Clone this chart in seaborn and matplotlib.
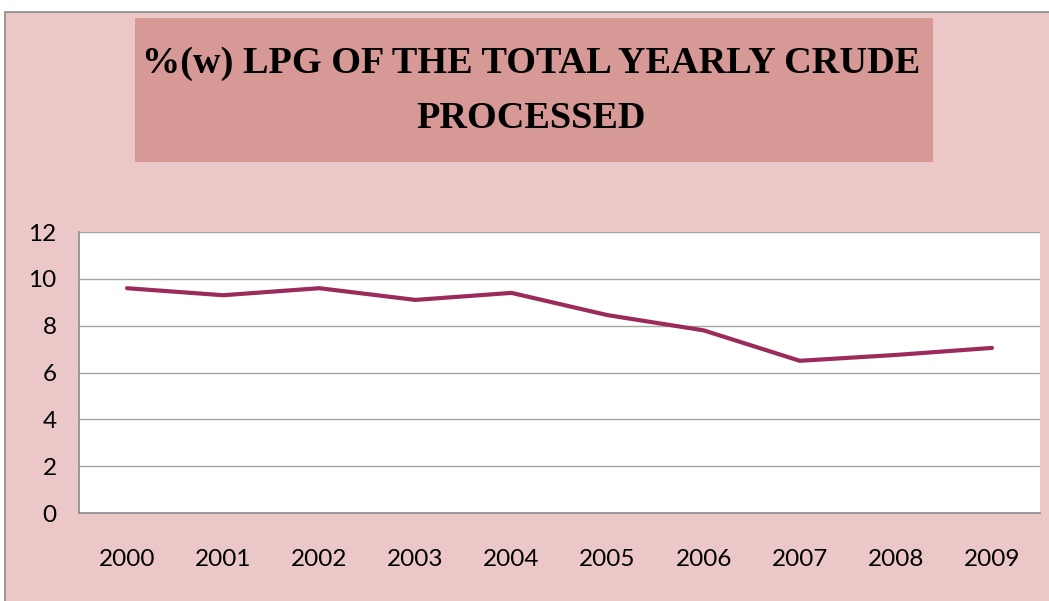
import matplotlib
matplotlib.use('Agg')

import matplotlib.pyplot as plt
import numpy as np
import pandas as pd
import seaborn as sns
from matplotlib.patches import Rectangle
from matplotlib.ticker import FixedLocator

# values
years = ['2000', '2001', '2002', '2003', '2004', '2005', '2006', '2007', '2008', '2009']
lpg_pct = [9.6, 9.3, 9.6, 9.1, 9.4, 8.45, 7.8, 6.5, 6.75, 7.05]
y_ticks = [0, 2, 4, 6, 8, 10, 12]

title = '%(w) LPG OF THE TOTAL YEARLY CRUDE\nPROCESSED'

df = pd.DataFrame({'year': years, 'lpg': lpg_pct})

sns.set_style('white')
plt.rcParams['font.family'] = ['Lato', 'DejaVu Sans']

W, H = 1049, 601
fig = plt.figure(figsize=(W / 100, H / 100), dpi=100, facecolor='white')

# pink chart background with grey frame
fig.patches.append(Rectangle((5 / W, -0.01), 1.0, (H - 12) / H + 0.01,
	transform=fig.transFigure, facecolor='#ebc7c8', edgecolor='#8a8a8a',
	linewidth=1.2, zorder=-2))

# title box
fig.patches.append(Rectangle((135 / W, 1 - 162 / H), (933 - 135) / W, (162 - 18) / H,
	transform=fig.transFigure, facecolor='#d79995', edgecolor='none', zorder=-1))
fig.text(531 / W, 1 - 91 / H, title, ha='center', va='center', fontsize=27.5,
	fontweight='bold', family='Liberation Serif', color='black',
	linespacing=1.75, zorder=2)

ax = fig.add_axes([79 / W, 1 - 513 / H, (1040 - 79) / W, (513 - 232) / H])
ax.set_facecolor('white')

sns.lineplot(data=df, x='year', y='lpg', ax=ax, color='#9b2b5b', linewidth=3.0,
	solid_capstyle='round', zorder=3)

ax.set_xlim(-0.5, len(years) - 0.5)
ax.set_ylim(0, 12)
ax.set_yticks(y_ticks)
ax.yaxis.grid(True, color='#a6a6a6', linewidth=1.0)
ax.set_axisbelow(True)

# category ticks between the labels, like a spreadsheet chart
ax.xaxis.set_minor_locator(FixedLocator(np.arange(-0.5, len(years), 1.0)))
ax.tick_params(axis='x', which='major', length=0, pad=26, labelsize=17.5, labelcolor='black')
ax.tick_params(axis='x', which='minor', length=8, width=1, color='#8a8a8a', direction='out')
ax.tick_params(axis='y', which='major', length=7, width=1, color='#8a8a8a',
	direction='out', labelsize=17.5, pad=9, labelcolor='black')

for side in ['top', 'right']:
	ax.spines[side].set_visible(False)
for side in ['left', 'bottom']:
	ax.spines[side].set_color('#8a8a8a')
	ax.spines[side].set_linewidth(1.2)

ax.set_xlabel('')
ax.set_ylabel('')

fig.savefig('out.png', dpi=100, facecolor=fig.get_facecolor())
plt.close()
